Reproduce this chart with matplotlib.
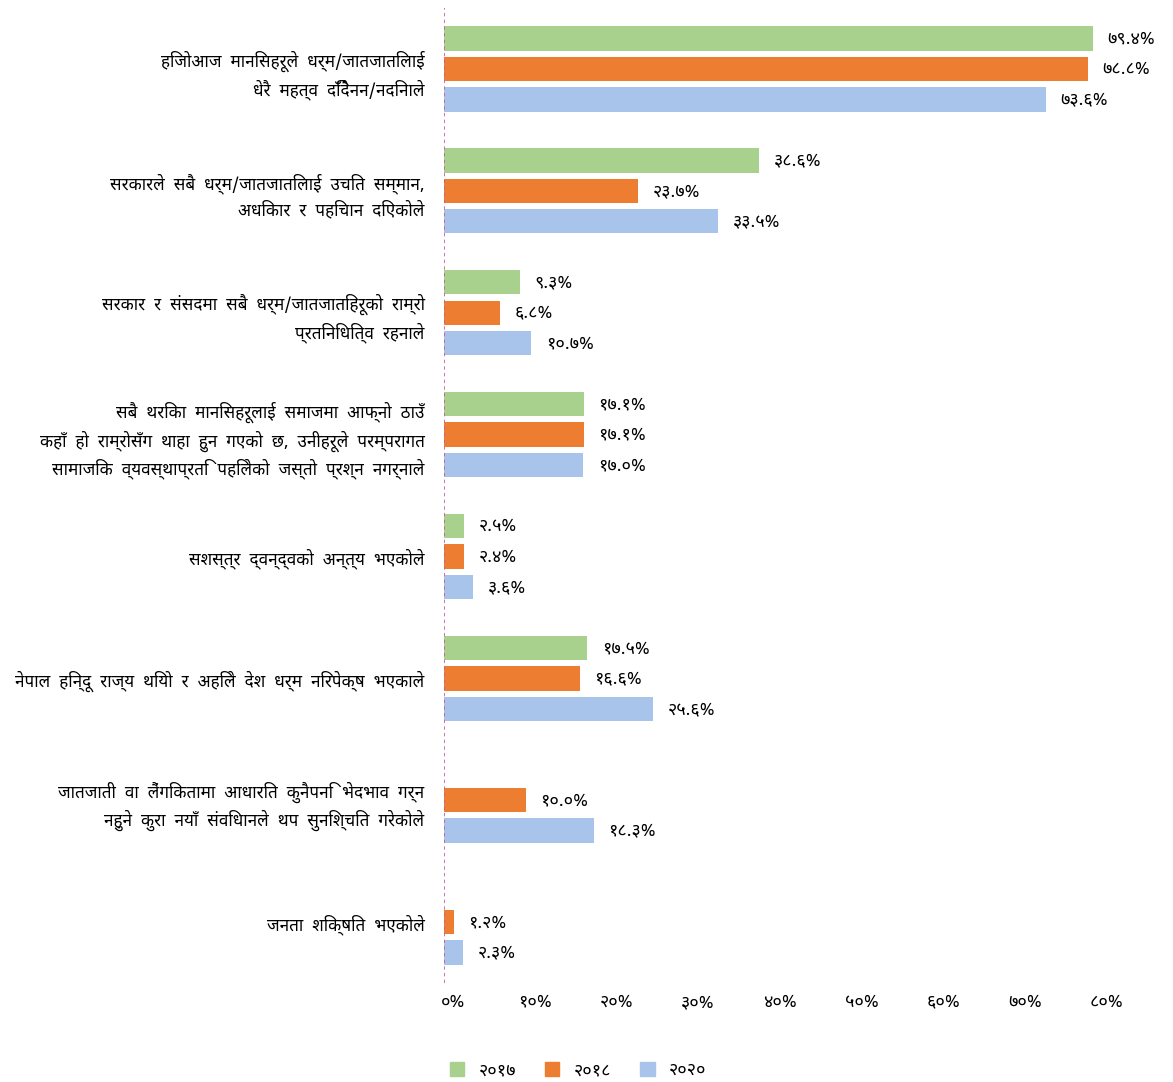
import matplotlib
matplotlib.use("Agg")
import matplotlib.pyplot as plt
from matplotlib import font_manager as fm
from matplotlib.patches import Patch
from matplotlib.transforms import ScaledTranslation
import numpy as np

categories = [
    "हिजोआज मानिसहरूले धर्म/जातजातिलाई\nधेरै महत्व दिँदैनन/नदिनाले",
    "सरकारले सबै धर्म/जातजातिलाई उचित सम्मान,\nअधिकार र पहिचान दिएकोले",
    "सरकार र संसदमा सबै धर्म/जातजातिहरूको राम्रो\nप्रतिनिधित्व रहनाले",
    "सबै थरिका मानिसहरूलाई समाजमा आफ्नो ठाउँ\nकहाँ हो राम्रोसँग थाहा हुन गएको छ, उनीहरूले परम्परागत\nसामाजिक व्यवस्थाप्रति पहिलेको जस्तो प्रश्न नगर्नाले",
    "सशस्त्र द्वन्द्वको अन्त्य भएकोले",
    "नेपाल हिन्दू राज्य थियो र अहिले देश धर्म निरपेक्ष भएकाले",
    "जातजाती वा लैंगिकतामा आधारित कुनैपनि भेदभाव गर्न\nनहुने कुरा नयाँ संविधानले थप सुनिश्चित गरेकोले",
    "जनता शिक्षित भएकोले",
]
series_names = ["२०१७", "२०१८", "२०२०"]
v2017 = [79.4, 38.6, 9.3, 17.1, 2.5, 17.5, None, None]
v2018 = [78.8, 23.7, 6.8, 17.1, 2.4, 16.6, 10.0, 1.2]
v2020 = [73.6, 33.5, 10.7, 17.0, 3.6, 25.6, 18.3, 2.3]
xticks = [0, 10, 20, 30, 40, 50, 60, 70, 80]
colors = ["#A9D18E", "#ED7D31", "#A9C4EB"]

# pick a proportional Devanagari font
names = {f.name for f in fm.fontManager.ttflist}
deva = None
for n in ["Noto Sans Devanagari", "Hind", "Mukta", "FreeSans"]:
    if n in names:
        deva = n
        break
plt.rcParams["font.family"] = ([deva] if deva else []) + ["DejaVu Sans"]

digits = "०१२३४५६७८९"
def deva_num(s):
    return "".join(digits[int(c)] if c.isdigit() else c for c in s)

fig = plt.figure(figsize=(11.73, 10.82), dpi=100)
ax = fig.add_axes([444 / 1173, 1 - 983 / 1082, 662 / 1173, 975 / 1082])

y = np.arange(len(categories))
h = 0.2
off = [-0.25, 0, 0.25]
for i, vals in enumerate([v2017, v2018, v2020]):
    for j, v in enumerate(vals):
        if v is None:
            continue
        ax.barh(y[j] + off[i], v, height=h, color=colors[i])
        ax.text(v + 1.8, y[j] + off[i], deva_num("%.1f" % v) + "%",
                va="center", ha="left", fontsize=13)

ax.set_ylim(len(categories) - 0.5, -0.5)
ax.set_xlim(0, 81)
ax.set_yticks(y)
ax.set_yticklabels([c.replace(" ", "  ") for c in categories], fontsize=12.3,
                   ha="right", linespacing=1.45)
ax.set_xticks(xticks)
ax.set_xticklabels([deva_num(str(t)) + "%" for t in xticks], fontsize=13)
ax.tick_params(length=0, pad=7)
ax.tick_params(axis="y", pad=14)
shift = ScaledTranslation(9 / 100, 0, fig.dpi_scale_trans)
for lab in ax.get_xticklabels():
    lab.set_transform(lab.get_transform() + shift)
for s in ax.spines.values():
    s.set_visible(False)
ax.axvline(0, color="#C45A9A", lw=1.2, ls=(0, (2, 2)))

handles = [Patch(color=c) for c in colors]
fig.legend(handles, series_names, loc="center", bbox_to_anchor=(578 / 1173, 1 - 1070 / 1082),
           ncol=3, frameon=False, fontsize=13, handlelength=0.8, handleheight=0.8,
           columnspacing=1.6, handletextpad=0.8)

fig.savefig("out.png", dpi=100)
